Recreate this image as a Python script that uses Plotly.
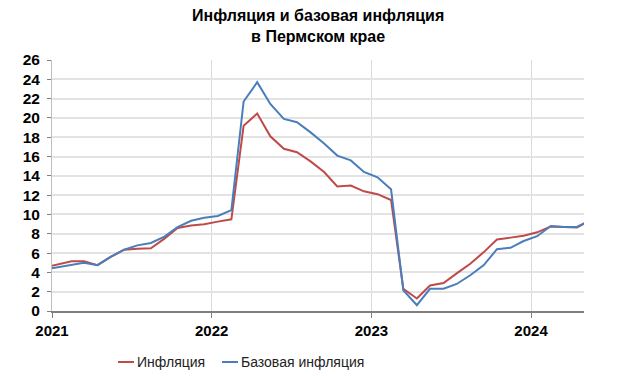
import plotly.graph_objects as go

months = [
    "2020-12", "2021-01", "2021-02", "2021-03", "2021-04", "2021-05", "2021-06",
    "2021-07", "2021-08", "2021-09", "2021-10", "2021-11", "2021-12",
    "2022-01", "2022-02", "2022-03", "2022-04", "2022-05", "2022-06",
    "2022-07", "2022-08", "2022-09", "2022-10", "2022-11", "2022-12",
    "2023-01", "2023-02", "2023-03", "2023-04", "2023-05", "2023-06",
    "2023-07", "2023-08", "2023-09", "2023-10", "2023-11", "2023-12",
    "2024-01", "2024-02", "2024-03", "2024-04", "2024-05",
]

inflation = [
    4.5, 4.85, 5.15, 5.15, 4.75, 5.6, 6.35,
    6.45, 6.5, 7.5, 8.6, 8.85, 8.98,
    9.26, 9.5, 19.2, 20.45, 18.1, 16.8,
    16.45, 15.5, 14.4, 12.9, 13.0, 12.4,
    12.1, 11.5, 2.3, 1.3, 2.65, 2.9,
    3.9, 4.9, 6.1, 7.4, 7.6, 7.8,
    8.15, 8.75, 8.7, 8.65, 9.4,
]

core_inflation = [
    4.3, 4.55, 4.8, 5.0, 4.75, 5.6, 6.35,
    6.8, 7.05, 7.7, 8.7, 9.35, 9.65,
    9.85, 10.45, 21.7, 23.7, 21.45, 19.9,
    19.55, 18.5, 17.35, 16.1, 15.6, 14.4,
    13.85, 12.6, 2.15, 0.6, 2.3, 2.3,
    2.8, 3.7, 4.75, 6.4, 6.55, 7.25,
    7.75, 8.8, 8.7, 8.7, 9.4,
]

series_names = ["Инфляция", "Базовая инфляция"]
title_text = "Инфляция и базовая инфляция<br>в Пермском крае"

x_dates = [m + "-15" for m in months]

RED = "#be4b48"
BLUE = "#4a7ebb"

W, H = 635, 376
ML, MR, MT, MB = 52, 51, 60, 65
PW, PH = W - ML - MR, H - MT - MB


def px_to_paper_x(px):
    return (px - ML) / PW


def px_to_paper_y(py):
    return (H - MB - py) / PH


fig = go.Figure()
fig.add_trace(go.Scatter(x=x_dates, y=inflation, mode="lines", name=series_names[0],
                         line=dict(color=RED, width=2), showlegend=False))
fig.add_trace(go.Scatter(x=x_dates, y=core_inflation, mode="lines", name=series_names[1],
                         line=dict(color=BLUE, width=2), showlegend=False))

font_family = "Liberation Sans, Arial, sans-serif"

fig.update_layout(
    width=W, height=H,
    margin=dict(l=ML, r=MR, t=MT, b=MB),
    paper_bgcolor="white", plot_bgcolor="white",
    font=dict(family=font_family, color="black"),
    xaxis=dict(
        type="date", range=["2021-01-01", "2024-05-01"],
        tick0="2021-01-01", dtick="M12", tickformat="%Y",
        showgrid=True, gridcolor="#d9d9d9", gridwidth=1,
        showline=True, linecolor="#7f7f7f", linewidth=2,
        ticks="outside", ticklen=5, tickcolor="#7f7f7f", tickwidth=1,
        tickfont=dict(family=font_family, size=15, color="black", weight="bold"),
        zeroline=False,
    ),
    yaxis=dict(
        range=[0, 26], dtick=2, tick0=0,
        showgrid=True, gridcolor="#e3e3e3", gridwidth=1.5,
        showline=True, linecolor="#bfbfbf", linewidth=1,
        ticks="outside", ticklen=4, tickcolor="#7f7f7f", tickwidth=1,
        ticklabelstandoff=4,
        tickfont=dict(family=font_family, size=15.5, color="black", weight="bold"),
        zeroline=False,
    ),
)

# title
fig.add_annotation(xref="paper", yref="paper", x=px_to_paper_x(318), y=px_to_paper_y(26.5),
                   text="<b>" + title_text + "</b>", showarrow=False,
                   xanchor="center", yanchor="middle", align="center",
                   font=dict(family=font_family, size=16, color="black"))

# legend drawn below the plot
legend_py = 362
legend_items = [(series_names[0], RED, 118, 134), (series_names[1], BLUE, 222, 238)]
for name, color, x0, x1 in legend_items:
    fig.add_shape(type="line", xref="paper", yref="paper",
                  x0=px_to_paper_x(x0), x1=px_to_paper_x(x1),
                  y0=px_to_paper_y(legend_py), y1=px_to_paper_y(legend_py),
                  line=dict(color=color, width=2))
    fig.add_annotation(xref="paper", yref="paper", x=px_to_paper_x(x1 + 1),
                       y=px_to_paper_y(legend_py), text=name, showarrow=False,
                       xanchor="left", yanchor="middle",
                       font=dict(family=font_family, size=14, color="#222222"))

fig.write_html("out.html")
